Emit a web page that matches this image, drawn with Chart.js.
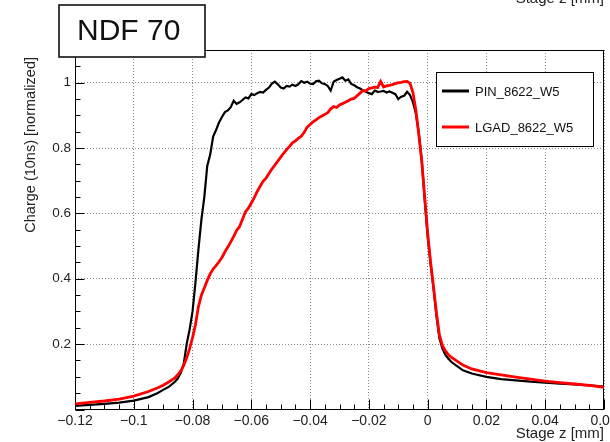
<!DOCTYPE html>
<html>
<head>
<meta charset="utf-8">
<script src="https://cdn.jsdelivr.net/npm/chart.js@4"></script>
<style>
    html, body { margin: 0; padding: 0; background: #fff; overflow: hidden; }
    #amb-grafico { width: 610px; height: 442px; overflow: hidden; }
</style>
</head>
<body>
<div id="amb-grafico"><canvas id="grafic-ndf" width="640" height="442"></canvas></div>
<script>
// stage position [mm]
const stageZ = [
    -0.12, -0.115, -0.11, -0.105, -0.1, -0.095, -0.092, -0.09, -0.088, -0.086,
    -0.085, -0.084, -0.083, -0.082, -0.081, -0.080, -0.079, -0.078, -0.077, -0.076,
    -0.075, -0.074, -0.073, -0.072, -0.071, -0.070, -0.069, -0.068, -0.067, -0.066,
    -0.065, -0.064, -0.063, -0.062, -0.061, -0.060, -0.059, -0.058, -0.057, -0.056,
    -0.055, -0.054, -0.053, -0.052, -0.051, -0.050, -0.049, -0.048, -0.047, -0.046,
    -0.045, -0.044, -0.043, -0.042, -0.041, -0.040, -0.039, -0.038, -0.037, -0.036,
    -0.035, -0.034, -0.033, -0.032, -0.031, -0.030, -0.029, -0.028, -0.027, -0.026,
    -0.025, -0.024, -0.023, -0.022, -0.021, -0.020, -0.019, -0.018, -0.017, -0.016,
    -0.015, -0.014, -0.013, -0.012, -0.011, -0.010, -0.009, -0.008, -0.007, -0.006,
    -0.005, -0.004, -0.003, -0.002, -0.001, 0.000, 0.001, 0.002, 0.003,
    0.004, 0.005, 0.006, 0.007, 0.008, 0.010, 0.012, 0.015, 0.020, 0.025,
    0.030, 0.035, 0.040, 0.045, 0.050, 0.055, 0.060
];

// PIN_8622_W5
const pinCharge = [
    0.011, 0.014, 0.017, 0.021, 0.027, 0.038, 0.050, 0.060, 0.070, 0.085,
    0.095, 0.112, 0.140, 0.200, 0.245, 0.300, 0.390, 0.490, 0.580, 0.650,
    0.745, 0.780, 0.835, 0.855, 0.878, 0.895, 0.910, 0.915, 0.925, 0.945,
    0.935, 0.940, 0.947, 0.955, 0.952, 0.965, 0.962, 0.968, 0.972, 0.970,
    0.978, 0.985, 0.997, 1.003, 0.995, 0.985, 0.982, 0.990, 0.988, 0.994,
    0.990, 0.995, 1.005, 1.000, 1.003, 0.997, 0.996, 1.004, 1.006, 0.998,
    0.996, 0.990, 0.976, 1.003, 1.008, 1.012, 1.016, 1.006, 1.010, 0.996,
    0.992, 0.986, 0.982, 0.976, 0.972, 0.968, 0.965, 0.976, 0.972, 0.973,
    0.975, 0.970, 0.973, 0.969, 0.965, 0.950, 0.957, 0.960, 0.972, 0.962,
    0.940, 0.905, 0.845, 0.760, 0.640, 0.530, 0.445, 0.370, 0.285,
    0.218, 0.187, 0.168, 0.156, 0.146, 0.133, 0.120, 0.110, 0.100, 0.093,
    0.089, 0.085, 0.082, 0.079, 0.077, 0.074, 0.070
];

// LGAD_8622_W5
const lgadCharge = [
    0.017, 0.022, 0.026, 0.032, 0.041, 0.055, 0.066, 0.074, 0.085, 0.097,
    0.106, 0.118, 0.135, 0.158, 0.186, 0.220, 0.260, 0.315, 0.350, 0.372,
    0.395, 0.415, 0.430, 0.440, 0.452, 0.465, 0.482, 0.497, 0.513, 0.530,
    0.548, 0.560, 0.582, 0.605, 0.616, 0.632, 0.648, 0.667, 0.683, 0.698,
    0.708, 0.722, 0.736, 0.748, 0.760, 0.772, 0.784, 0.795, 0.805, 0.816,
    0.822, 0.830, 0.836, 0.848, 0.864, 0.872, 0.880, 0.886, 0.893, 0.898,
    0.903, 0.908, 0.920, 0.927, 0.924, 0.932, 0.936, 0.940, 0.945, 0.950,
    0.952, 0.960, 0.968, 0.976, 0.975, 0.982, 0.984, 0.986, 0.985, 1.004,
    0.987, 0.990, 0.992, 0.994, 0.997, 1.000, 1.001, 1.003, 1.004, 0.998,
    0.970, 0.915, 0.840, 0.760, 0.650, 0.540, 0.450, 0.375, 0.295,
    0.228, 0.196, 0.180, 0.168, 0.160, 0.148, 0.136, 0.124, 0.113, 0.106,
    0.099, 0.093, 0.087, 0.082, 0.078, 0.074, 0.068
];

const seriesNames = ['PIN_8622_W5', 'LGAD_8622_W5'];
const seriesColors = ['#000000', '#ff0000'];
const xTicks = [-0.12, -0.1, -0.08, -0.06, -0.04, -0.02, 0, 0.02, 0.04, 0.06];
const yTicks = [0.2, 0.4, 0.6, 0.8, 1];
const labelText = 'NDF 70';
const xTitle = 'Stage z [mm]';
const yTitle = 'Charge (10ns) [normalized]';

const FONT = "'Liberation Sans', Arial, Helvetica, sans-serif";

function fmtTick(v) {
    const s = String(Math.abs(+v.toFixed(3)));
    return v < 0 ? '\u2212' + s : s;
}

// moldura, ticks menores, títulos, legenda e caixa NDF
const decoracao = {
    id: 'decoracao',
    beforeDatasetsDraw(chart) {
        const { ctx, chartArea: a, scales: { x, y } } = chart;
        const L = Math.round(a.left) + 0.5, R = Math.round(a.right) - 0.5;
        const T = Math.round(a.top) + 0.5, B = Math.round(a.bottom) - 0.5;
        ctx.save();
        ctx.strokeStyle = '#000';
        ctx.lineWidth = 1;
        ctx.strokeRect(L, T, R - L, B - T);
        ctx.beginPath();
        for (let i = 0; i <= 36; i++) {
            const px = Math.round(x.getPixelForValue(-0.12 + i * 0.005)) + 0.5;
            const len = i % 4 === 0 ? 10 : 5;
            ctx.moveTo(px, B);
            ctx.lineTo(px, B - len);
        }
        for (let i = 0; i <= 22; i++) {
            const py = Math.round(y.getPixelForValue(i * 0.05)) + 0.5;
            const len = i % 4 === 0 ? 9 : 5;
            ctx.moveTo(L, py);
            ctx.lineTo(L + len, py);
        }
        ctx.stroke();
        ctx.restore();
    },
    afterDraw(chart) {
        const { ctx } = chart;
        ctx.save();
        ctx.fillStyle = '#222';

        // títulos dos eixos
        ctx.font = '15px ' + FONT;
        ctx.textAlign = 'right';
        ctx.textBaseline = 'middle';
        ctx.fillText(xTitle, 604, 434);
        ctx.textBaseline = 'alphabetic';
        ctx.fillText(xTitle, 604, 3);

        ctx.save();
        ctx.font = '14.5px ' + FONT;
        ctx.translate(31, 57);
        ctx.rotate(-Math.PI / 2);
        ctx.textAlign = 'right';
        ctx.textBaseline = 'middle';
        ctx.fillText(yTitle, 0, 0);
        ctx.restore();

        // legenda
        ctx.fillStyle = '#fff';
        ctx.fillRect(436, 72, 157, 74);
        ctx.strokeStyle = '#000';
        ctx.lineWidth = 1;
        ctx.strokeRect(436.5, 72.5, 157, 74);
        const rows = [91, 127];
        chart.data.datasets.forEach((ds, i) => {
            ctx.strokeStyle = ds.borderColor;
            ctx.lineWidth = 3;
            ctx.beginPath();
            ctx.moveTo(442, rows[i]);
            ctx.lineTo(469, rows[i]);
            ctx.stroke();
            ctx.fillStyle = '#111';
            ctx.font = '13px ' + FONT;
            ctx.textAlign = 'left';
            ctx.textBaseline = 'middle';
            ctx.fillText(ds.label, 475, rows[i] + 1);
        });

        // caixa NDF
        ctx.fillStyle = '#fff';
        ctx.fillRect(59, 5, 146, 52);
        ctx.strokeStyle = '#000';
        ctx.lineWidth = 1.5;
        ctx.strokeRect(59, 5, 146, 52);
        ctx.fillStyle = '#111';
        ctx.font = '30px ' + FONT;
        ctx.textAlign = 'left';
        ctx.textBaseline = 'middle';
        ctx.fillText(labelText, 77, 32);
        ctx.restore();
    }
};

const data = {
    datasets: [{
        label: seriesNames[0],
        data: stageZ.map((z, i) => ({ x: z, y: pinCharge[i] })),
        borderColor: seriesColors[0],
        borderWidth: 2.2,
        pointRadius: 0,
        tension: 0,
        order: 1
    }, {
        label: seriesNames[1],
        data: stageZ.map((z, i) => ({ x: z, y: lgadCharge[i] })),
        borderColor: seriesColors[1],
        borderWidth: 2.8,
        pointRadius: 0,
        tension: 0,
        order: 0
    }]
};

const config = {
    type: 'line',
    data: data,
    options: {
        responsive: false,
        animation: false,
        layout: { padding: { left: 0, top: 50, right: 36, bottom: 0 } },
        plugins: {
            legend: { display: false },
            tooltip: { enabled: false }
        },
        scales: {
            x: {
                type: 'linear',
                min: -0.12,
                max: 0.06,
                afterBuildTicks: s => { s.ticks = xTicks.map(v => ({ value: v })); },
                afterFit: s => { s.height = 32.5; },
                grid: { color: '#8a8a8a', lineWidth: 1, drawTicks: false },
                border: { display: false, dash: [1, 2] },
                ticks: {
                    color: '#222',
                    font: { size: 14, family: FONT },
                    padding: 3,
                    autoSkip: false,
                    maxRotation: 0,
                    callback: v => fmtTick(v)
                }
            },
            y: {
                min: 0,
                max: 1.1,
                afterBuildTicks: s => { s.ticks = yTicks.map(v => ({ value: v })); },
                afterFit: s => { s.width = 75; },
                grid: { color: '#8a8a8a', lineWidth: 1, drawTicks: false },
                border: { display: false, dash: [1, 2] },
                ticks: {
                    color: '#222',
                    font: { size: 13.5, family: FONT },
                    padding: 4,
                    callback: v => fmtTick(v)
                }
            }
        }
    },
    plugins: [decoracao]
};

const myChart = new Chart(document.getElementById('grafic-ndf'), config);
</script>
</body>
</html>
